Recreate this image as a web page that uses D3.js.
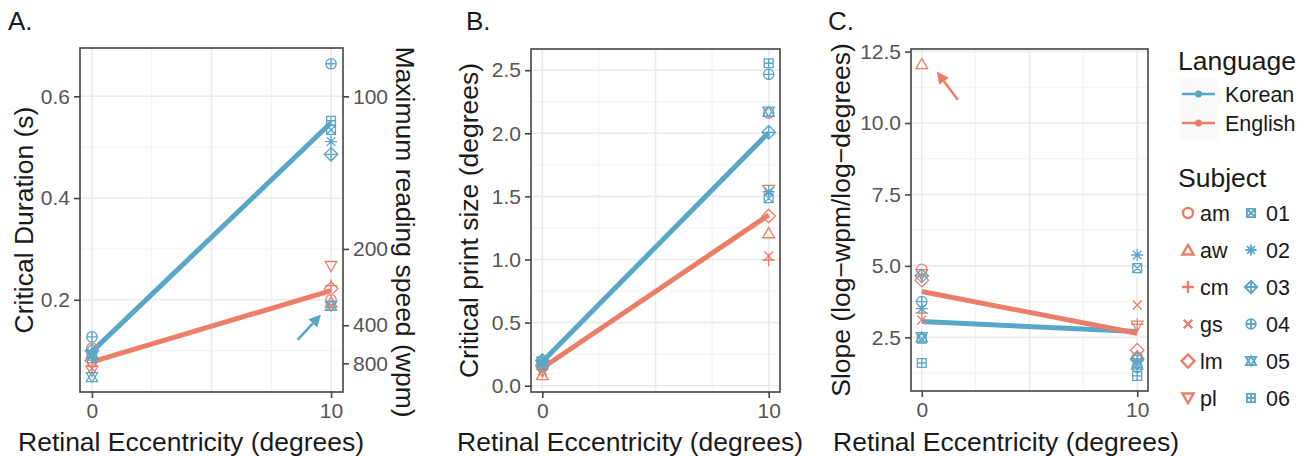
<!DOCTYPE html>
<html>
<head>
<meta charset="utf-8">
<script src="https://cdn.jsdelivr.net/npm/d3@7"></script>
<style>
  body { margin: 0; background: #fff; }
  text { font-family: "Liberation Sans", Arial, Helvetica, sans-serif; }
</style>
</head>
<body>
<svg id="chart" width="1308" height="456"></svg>
<script>
// ---- data ----
const englishSubjects = ["am", "aw", "cm", "gs", "lm", "pl"];
const koreanSubjects = ["01", "02", "03", "04", "05", "06"];
const englishShapes = ["circle", "triUp", "plus", "cross", "diamond", "triDown"];
const koreanShapes = ["squareX", "asterisk", "diamondPlus", "circlePlus", "star", "squarePlus"];
const eccentricity = [0, 10];

// A. critical duration (s)
const durationEnglish0 = [0.105, 0.095, 0.07, 0.065, 0.08, 0.06];
const durationEnglish10 = [0.20, 0.195, 0.228, 0.187, 0.222, 0.266];
const durationKorean0 = [0.09, 0.095, 0.10, 0.127, 0.048, 0.085];
const durationKorean10 = [0.534, 0.511, 0.486, 0.664, 0.188, 0.552];
const durationLineEnglish = [0.078, 0.218];
const durationLineKorean = [0.098, 0.548];
const durationTicks = [0.2, 0.4, 0.6];
const durationMinor = [0.1, 0.3, 0.5];
const speedTicks = [100, 200, 400, 800];

// B. critical print size (degrees)
const printEnglish0 = [0.15, 0.085, 0.13, 0.12, 0.16, 0.11];
const printEnglish10 = [2.16, 1.21, 0.996, 1.028, 1.345, 1.55];
const printKorean0 = [0.19, 0.18, 0.20, 0.17, 0.19, 0.16];
const printKorean10 = [1.485, 1.537, 2.008, 2.467, 2.171, 2.555];
const printLineEnglish = [0.14, 1.353];
const printLineKorean = [0.19, 2.005];
const printTicks = [0, 0.5, 1.0, 1.5, 2.0, 2.5];
const printMinor = [0.25, 0.75, 1.25, 1.75, 2.25];

// C. slope
const slopeEnglish0 = [4.88, 12.07, 3.35, 3.1, 4.5, 4.7];
const slopeEnglish10 = [1.8, 1.85, 2.95, 3.63, 2.05, 2.9];
const slopeKorean0 = [2.45, 3.5, 4.65, 3.75, 2.5, 1.6];
const slopeKorean10 = [4.92, 5.38, 1.75, 1.45, 1.55, 1.15];
const slopeLineEnglish = [4.1, 2.64];
const slopeLineKorean = [3.05, 2.7];
const slopeTicks = [2.5, 5.0, 7.5, 10.0, 12.5];
const slopeMinor = [1.25, 3.75, 6.25, 8.75, 11.25];

const xTicks = [0, 10];
const xGrid = [0, 5, 10];
const xMinor = [2.5, 7.5];

const blue = "#59a7c8";
const red = "#ec7e67";

const svg = d3.select("#chart");

// ggplot-like point shapes, s = half size
function shapePath(shape, s) {
  const p = d3.path();
  const tri = (dir, R) => {
    const a0 = dir > 0 ? -90 : 90;
    [0, 120, 240].forEach((a, i) => {
      const t = (a0 + a) * Math.PI / 180;
      const x = R * Math.cos(t), y = R * Math.sin(t) + (dir > 0 ? R * 0.2 : -R * 0.2);
      if (i === 0) p.moveTo(x, y); else p.lineTo(x, y);
    });
    p.closePath();
  };
  const plus = (r) => { p.moveTo(-r, 0); p.lineTo(r, 0); p.moveTo(0, -r); p.lineTo(0, r); };
  const cross = (r) => { p.moveTo(-r, -r); p.lineTo(r, r); p.moveTo(-r, r); p.lineTo(r, -r); };
  const diamond = (r) => { p.moveTo(0, -r); p.lineTo(r, 0); p.lineTo(0, r); p.lineTo(-r, 0); p.closePath(); };
  const square = (r) => { p.rect(-r, -r, 2 * r, 2 * r); };
  const circ = (r) => { p.moveTo(r, 0); p.arc(0, 0, r, 0, 2 * Math.PI); };
  switch (shape) {
    case "circle": circ(s); break;
    case "triUp": tri(1, s * 1.3); break;
    case "triDown": tri(-1, s * 1.3); break;
    case "plus": plus(s * 1.2); break;
    case "cross": cross(s * 0.85); break;
    case "diamond": diamond(s * 1.3); break;
    case "squareX": square(s * 0.85); cross(s * 0.85); break;
    case "asterisk": plus(s * 1.15); cross(s * 0.82); break;
    case "diamondPlus": diamond(s * 1.3); plus(s * 1.3); break;
    case "circlePlus": circ(s); plus(s); break;
    case "star": tri(1, s * 1.25); tri(-1, s * 1.25); break;
    case "squarePlus": square(s * 0.85); plus(s * 0.85); break;
  }
  return p.toString();
}

const titleSize = "26.5px";
const tickSize = "21px";

const panels = [
  {
    label: "A.", labelX: 8, left: 80, right: 343, top: 48, bottom: 392,
    yDomain: [0.0187, 0.695], yTicks: durationTicks, yMinor: durationMinor, fmt: d3.format(".1f"),
    title: "Critical Duration (s)", titleX: 33, xTitleX: 18,
    en0: durationEnglish0, en10: durationEnglish10, ko0: durationKorean0, ko10: durationKorean10,
    lineEn: durationLineEnglish, lineKo: durationLineKorean,
    arrow: { color: blue, from: [8.6, 0.121], to: [9.58, 0.171] },
    secondary: true
  },
  {
    label: "B.", labelX: 466, left: 531, right: 780, top: 49, bottom: 392,
    yDomain: [-0.05, 2.668], yTicks: printTicks, yMinor: printMinor, fmt: d3.format(".1f"),
    title: "Critical print size (degrees)", titleX: 478, xTitleX: 457,
    en0: printEnglish0, en10: printEnglish10, ko0: printKorean0, ko10: printKorean10,
    lineEn: printLineEnglish, lineKo: printLineKorean
  },
  {
    label: "C.", labelX: 828, left: 911, right: 1148, top: 49, bottom: 391,
    yDomain: [0.62, 12.59], yTicks: slopeTicks, yMinor: slopeMinor, fmt: d3.format(".1f"),
    title: "Slope (log\u2212wpm/log\u2212degrees)", titleX: 850, xTitleX: 833,
    en0: slopeEnglish0, en10: slopeEnglish10, ko0: slopeKorean0, ko10: slopeKorean10,
    lineEn: slopeLineEnglish, lineKo: slopeLineKorean,
    arrow: { color: red, from: [1.67, 10.81], to: [0.7, 11.8] }
  }
];

panels.forEach(cfg => {
  const x = d3.scaleLinear().domain([-0.5, 10.5]).range([cfg.left, cfg.right]);
  const y = d3.scaleLinear().domain(cfg.yDomain).range([cfg.bottom, cfg.top]);
  const g = svg.append("g");

  // panel background + grid
  g.append("rect").attr("x", cfg.left).attr("y", cfg.top)
    .attr("width", cfg.right - cfg.left).attr("height", cfg.bottom - cfg.top).attr("fill", "#fff");
  g.selectAll(".ymin").data(cfg.yMinor).enter().append("line")
    .attr("x1", cfg.left).attr("x2", cfg.right).attr("y1", d => y(d)).attr("y2", d => y(d))
    .attr("stroke", "#f2f2f2").attr("stroke-width", 1);
  g.selectAll(".xmin").data(xMinor).enter().append("line")
    .attr("y1", cfg.top).attr("y2", cfg.bottom).attr("x1", d => x(d)).attr("x2", d => x(d))
    .attr("stroke", "#f2f2f2").attr("stroke-width", 1);
  g.selectAll(".ymaj").data(cfg.yTicks).enter().append("line")
    .attr("x1", cfg.left).attr("x2", cfg.right).attr("y1", d => y(d)).attr("y2", d => y(d))
    .attr("stroke", "#ebebeb").attr("stroke-width", 1.6);
  g.selectAll(".xmaj").data(xGrid).enter().append("line")
    .attr("y1", cfg.top).attr("y2", cfg.bottom).attr("x1", d => x(d)).attr("x2", d => x(d))
    .attr("stroke", "#ebebeb").attr("stroke-width", 1.6);

  // lines
  const line = d3.line().x((d, i) => x(eccentricity[i])).y(d => y(d));
  [[cfg.lineKo, blue], [cfg.lineEn, red]].forEach(([vals, col]) => {
    g.append("path").attr("d", line(vals)).attr("fill", "none")
      .attr("stroke", col).attr("stroke-width", 5);
  });

  // points
  const pts = [];
  englishSubjects.forEach((s, i) => {
    pts.push({ ecc: 0, v: cfg.en0[i], shape: englishShapes[i], col: red });
    pts.push({ ecc: 10, v: cfg.en10[i], shape: englishShapes[i], col: red });
  });
  koreanSubjects.forEach((s, i) => {
    pts.push({ ecc: 0, v: cfg.ko0[i], shape: koreanShapes[i], col: blue });
    pts.push({ ecc: 10, v: cfg.ko10[i], shape: koreanShapes[i], col: blue });
  });
  g.selectAll(".pt").data(pts).enter().append("path")
    .attr("transform", d => `translate(${x(d.ecc)},${y(d.v)})`)
    .attr("d", d => shapePath(d.shape, 5.2))
    .attr("fill", "none").attr("stroke", d => d.col).attr("stroke-width", 1.3);

  // arrow annotation
  if (cfg.arrow) {
    const a = cfg.arrow;
    const x1 = x(a.from[0]), y1 = y(a.from[1]), x2 = x(a.to[0]), y2 = y(a.to[1]);
    const ang = Math.atan2(y2 - y1, x2 - x1);
    const hl = 12, hw = 6;
    const bx = x2 - hl * Math.cos(ang), by = y2 - hl * Math.sin(ang);
    g.append("line").attr("x1", x1).attr("y1", y1).attr("x2", bx).attr("y2", by)
      .attr("stroke", a.color).attr("stroke-width", 2.5);
    g.append("path")
      .attr("d", `M${x2},${y2}L${bx + hw * Math.sin(ang)},${by - hw * Math.cos(ang)}L${bx - hw * Math.sin(ang)},${by + hw * Math.cos(ang)}Z`)
      .attr("fill", a.color);
  }

  // border
  g.append("rect").attr("x", cfg.left).attr("y", cfg.top)
    .attr("width", cfg.right - cfg.left).attr("height", cfg.bottom - cfg.top)
    .attr("fill", "none").attr("stroke", "#444").attr("stroke-width", 1.6);

  // axes
  const yAxis = g.append("g").attr("transform", `translate(${cfg.left},0)`)
    .call(d3.axisLeft(y).tickValues(cfg.yTicks).tickFormat(cfg.fmt).tickSize(6).tickPadding(4));
  const xAxis = g.append("g").attr("transform", `translate(0,${cfg.bottom})`)
    .call(d3.axisBottom(x).tickValues(xTicks).tickSize(6).tickPadding(5));
  [yAxis, xAxis].forEach(ax => {
    ax.select(".domain").remove();
    ax.selectAll("line").attr("stroke", "#444").attr("stroke-width", 1.6);
    ax.selectAll("text").attr("fill", "#555").style("font-size", tickSize)
      .style("font-family", "'Liberation Sans', Arial, sans-serif");
  });

  if (cfg.secondary) {
    const rAxis = g.append("g").attr("transform", `translate(${cfg.right},0)`)
      .call(d3.axisRight(y).tickValues(speedTicks.map(w => 60 / w)).tickFormat(d => Math.round(60 / d))
        .tickSize(6).tickPadding(4));
    rAxis.select(".domain").remove();
    rAxis.selectAll("line").attr("stroke", "#444").attr("stroke-width", 1.6);
    rAxis.selectAll("text").attr("fill", "#555").style("font-size", tickSize)
      .style("font-family", "'Liberation Sans', Arial, sans-serif");
    svg.append("text")
      .attr("transform", `translate(396,${(cfg.top + cfg.bottom) / 2 + 12}) rotate(90)`)
      .attr("text-anchor", "middle").attr("fill", "#1a1a1a").style("font-size", titleSize)
      .text("Maximum reading speed (wpm)");
  }

  // titles
  svg.append("text")
    .attr("transform", `translate(${cfg.titleX},${(cfg.top + cfg.bottom) / 2}) rotate(-90)`)
    .attr("text-anchor", "middle").attr("fill", "#1a1a1a").style("font-size", titleSize)
    .text(cfg.title);
  svg.append("text").attr("x", cfg.xTitleX).attr("y", 451)
    .attr("fill", "#1a1a1a").style("font-size", titleSize)
    .text("Retinal Eccentricity (degrees)");
  svg.append("text").attr("x", cfg.labelX).attr("y", 30)
    .attr("fill", "#1a1a1a").style("font-size", "26px").text(cfg.label);
});

// ---- legend ----
const legend = svg.append("g");
legend.append("text").attr("x", 1178).attr("y", 70).attr("fill", "#1a1a1a")
  .style("font-size", titleSize).text("Language");
legend.append("rect").attr("x", 1180).attr("y", 78).attr("width", 38).attr("height", 62).attr("fill", "#fafafa");
[["Korean", blue, 94], ["English", red, 123]].forEach(([name, col, yy]) => {
  legend.append("line").attr("x1", 1182).attr("x2", 1215).attr("y1", yy).attr("y2", yy)
    .attr("stroke", col).attr("stroke-width", 2.5);
  legend.append("circle").attr("cx", 1198.5).attr("cy", yy).attr("r", 3.5).attr("fill", col);
  legend.append("text").attr("x", 1225).attr("y", yy + 8).attr("fill", "#1a1a1a")
    .style("font-size", "21.5px").text(name);
});
legend.append("text").attr("x", 1178).attr("y", 187).attr("fill", "#1a1a1a")
  .style("font-size", titleSize).text("Subject");
const rowY = d3.scalePoint().domain(d3.range(6)).range([213, 398]);
englishSubjects.forEach((s, i) => {
  legend.append("path").attr("transform", `translate(1188,${rowY(i)})`)
    .attr("d", shapePath(englishShapes[i], 5)).attr("fill", "none")
    .attr("stroke", red).attr("stroke-width", 2.4);
  legend.append("text").attr("x", 1200).attr("y", rowY(i) + 8).attr("fill", "#1a1a1a")
    .style("font-size", "21.5px").text(s);
});
koreanSubjects.forEach((s, i) => {
  legend.append("path").attr("transform", `translate(1251,${rowY(i)})`)
    .attr("d", shapePath(koreanShapes[i], 4.8)).attr("fill", "none")
    .attr("stroke", blue).attr("stroke-width", 1.8);
  legend.append("text").attr("x", 1266).attr("y", rowY(i) + 8).attr("fill", "#1a1a1a")
    .style("font-size", "21.5px").text(s);
});
</script>
</body>
</html>
